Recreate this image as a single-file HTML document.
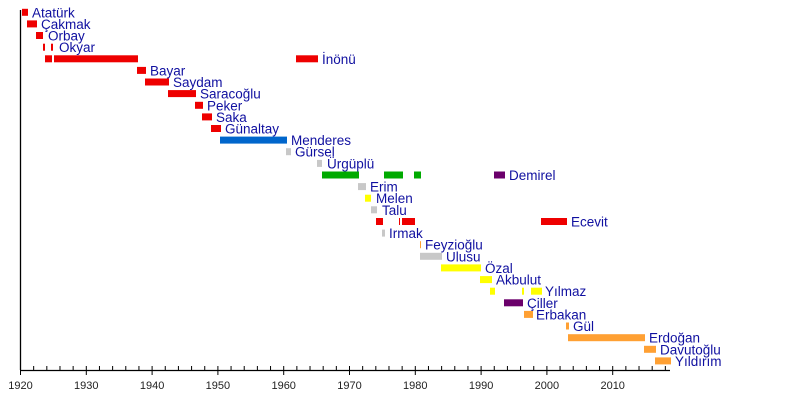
<!DOCTYPE html>
<html><head><meta charset="utf-8"><style>
html,body{margin:0;padding:0;background:#fff;width:800px;height:420px;overflow:hidden}
</style></head><body>
<svg width="800" height="420" xmlns="http://www.w3.org/2000/svg" font-family="Liberation Sans, sans-serif">
<g id="bars"></g>
<g id="labels" fill="#1010a0" font-size="13.5"></g>
<line x1="20.5" y1="10" x2="20.5" y2="370" stroke="#000" stroke-width="1.3"/>
<line x1="20" y1="370.5" x2="670" y2="370.5" stroke="#000" stroke-width="1.3"/>
<g id="ticks" stroke="#000" stroke-width="1"></g>
<g id="tl" font-size="11" fill="#222" text-anchor="middle"></g>
</svg>
<script>
var ns="http://www.w3.org/2000/svg";
function el(p,t,a,txt){var e=document.createElementNS(ns,t);for(var k in a)e.setAttribute(k,a[k]);if(txt)e.textContent=txt;document.getElementById(p).appendChild(e);}
var R="#ee0000",B="#0066cc",G="#c8c8c8",GR="#00aa00",P="#6b006b",Y="#ffff00",O="#ffa033";
var rows=[
["Atatürk",32,[[22,28,R]]],
["Çakmak",41,[[27,37,R]]],
["Orbay",48,[[36,43,R]]],
["Okyar",59,[[43,45,R],[51,53,R]]],
["İnönü",322,[[45,52,R],[54,138,R],[296,318,R]]],
["Bayar",150,[[137,146,R]]],
["Saydam",173,[[145,169,R]]],
["Saracoğlu",200,[[168,196,R]]],
["Peker",207,[[195,203,R]]],
["Saka",216,[[202,212,R]]],
["Günaltay",225,[[211,221,R]]],
["Menderes",291,[[220,287,B]]],
["Gürsel",295,[[286,291,G]]],
["Ürgüplü",327,[[317,322,G]]],
["Demirel",509,[[322,359,GR],[384,403,GR],[414,421,GR],[494,505,P]]],
["Erim",370,[[358,366,G]]],
["Melen",376,[[365,371,Y]]],
["Talu",382,[[371,377,G]]],
["Ecevit",571,[[376,383,R],[399,400,R],[402,415,R],[541,567,R]]],
["Irmak",389,[[382,385,G]]],
["Feyzioğlu",425,[[420,421,O]]],
["Ulusu",446,[[420,442,G]]],
["Özal",485,[[441,481,Y]]],
["Akbulut",496,[[480,492,Y]]],
["Yılmaz",545,[[490,495,Y],[522,524,Y],[531,542,Y]]],
["Çiller",527,[[504,523,P]]],
["Erbakan",536,[[524,533,O]]],
["Gül",573,[[566,569,O]]],
["Erdoğan",649,[[568,645,O]]],
["Davutoğlu",660,[[644,656,O]]],
["Yıldırım",675,[[655,671,O]]]];
rows.forEach(function(r,i){var yc=12.3+i*11.62;
r[2].forEach(function(b){el("bars","rect",{x:b[0],y:(yc-3.5).toFixed(1),width:b[1]-b[0],height:7,fill:b[2]});});
el("labels","text",{x:r[1],y:(yc+5).toFixed(1)},r[0]);});
var px=6.58;
for(var yr=1920;yr<=2018;yr+=2){var x=20.5+(yr-1920)*px;var maj=yr%10==0;
el("ticks","line",{x1:x,y1:366,x2:x,y2:maj?375:370});
if(maj)el("tl","text",{x:x,y:389},String(yr));}
</script>
</body></html>
